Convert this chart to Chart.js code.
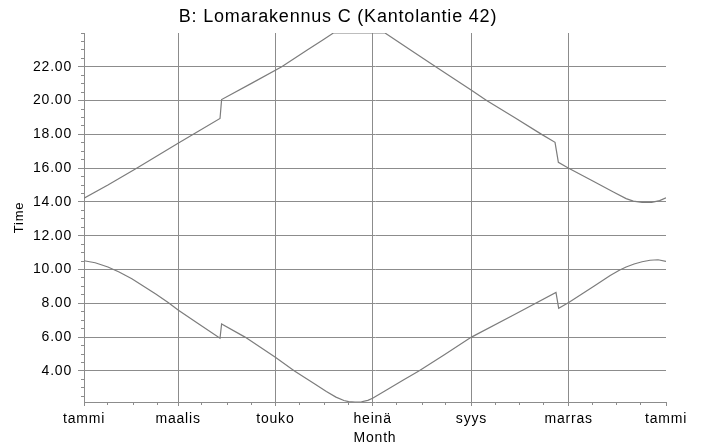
<!DOCTYPE html>
<html>
<head>
<meta charset="utf-8">
<script src="https://cdn.jsdelivr.net/npm/chart.js@4/dist/chart.umd.min.js"></script>
<style>
	html, body { margin: 0; padding: 0; background: #fff; }
</style>
</head>
<body>
<canvas id="sun-chart" width="704" height="448"></canvas>
<script>
// x axis: day of year, labels every second month
const monthLabels = ['tammi', 'maalis', 'touko', 'heinä', 'syys', 'marras', 'tammi'];
const monthLabelDays = [0, 59, 120, 181, 243, 304, 365];
const monthStartDays = [0, 31, 59, 90, 120, 151, 181, 212, 243, 273, 304, 334, 365];
const timeTicks = [4, 6, 8, 10, 12, 14, 16, 18, 20, 22];

// upper curve (sunset)
const sunsetDays = [0, 15, 33, 59, 72, 85.3, 86.3, 105, 124, 140, 150, 156.4, 188.8, 205, 222, 243, 252.5, 270, 287, 295.4, 297.5, 303.7, 319.4, 332, 340, 344.5, 350, 356, 361, 365];
const sunsetTimes = [14.22, 15.0, 16.0, 17.48, 18.2, 18.94, 20.06, 21.02, 22.0, 23.0, 23.6, 24.0, 24.0, 22.98, 21.92, 20.61, 20.0, 19.0, 18.0, 17.53, 16.35, 16.01, 15.22, 14.59, 14.2, 14.05, 13.98, 13.98, 14.08, 14.25];

// lower curve (sunrise)
const sunriseDays = [0, 7, 15, 22, 30, 45, 53, 59, 72, 85.3, 86.3, 101, 120, 132, 145, 152, 158, 163, 166, 170, 174, 178, 181, 190, 200, 210, 226, 243, 270, 296, 297.7, 304, 320, 330, 336, 340, 345, 350, 355, 360, 365];
const sunriseTimes = [10.52, 10.4, 10.15, 9.85, 9.45, 8.55, 8.03, 7.6, 6.77, 5.93, 6.78, 6.0, 4.81, 4.0, 3.21, 2.78, 2.45, 2.25, 2.18, 2.16, 2.17, 2.26, 2.38, 2.89, 3.45, 4.0, 4.96, 6.0, 7.34, 8.64, 7.71, 8.05, 9.02, 9.65, 9.97, 10.15, 10.33, 10.46, 10.55, 10.58, 10.48];

const yMin = 2.16;
const yMax = 24;
const gridColor = '#8c8c8c';
const lineColor = '#7c7c7c';

Chart.defaults.font.family = "'Liberation Sans', Arial, sans-serif";
Chart.defaults.color = '#000';

// the original text is set a bit wider than plain Arial
const spacedText = {
	id: 'spacedText',
	beforeUpdate(chart) { chart.ctx.letterSpacing = '0.8px'; },
	beforeDraw(chart) { chart.ctx.letterSpacing = '0.8px'; },
};

const toPoints = (days, times) => days.map((d, i) => ({ x: d, y: times[i] }));

const minorX = monthStartDays.slice(0, -1).flatMap((d) => [d, d + 15]).concat([365]);
const minorY = [];
for (let v = 2.5; v <= yMax; v += 0.5) minorY.push(v);

new Chart(document.getElementById('sun-chart'), {
	type: 'line',
	plugins: [spacedText],
	data: {
		datasets: [
			{
				label: 'sunset',
				data: toPoints(sunsetDays, sunsetTimes),
				borderColor: lineColor,
				borderWidth: 1.2,
				pointRadius: 0,
				tension: 0,
			},
			{
				label: 'sunrise',
				data: toPoints(sunriseDays, sunriseTimes),
				borderColor: lineColor,
				borderWidth: 1.2,
				pointRadius: 0,
				tension: 0,
			},
		],
	},
	options: {
		responsive: false,
		animation: false,
		layout: { padding: { left: 10, right: 38, top: 0, bottom: 0 } },
		plugins: {
			legend: { display: false },
			tooltip: { enabled: false },
			title: {
				display: true,
				text: 'B: Lomarakennus C (Kantolantie 42)',
				font: { size: 18, weight: 'normal' },
				color: '#000',
				padding: { top: 6, bottom: 5.4 },
			},
		},
		scales: {
			x: {
				type: 'linear',
				position: 'bottom',
				weight: 1,
				min: 0,
				max: 365,
				afterBuildTicks: (axis) => {
					axis.ticks = monthLabelDays.map((v) => ({ value: v }));
				},
				afterFit: (axis) => { axis.height = 46; },
				ticks: {
					autoSkip: false,
					maxRotation: 0,
					padding: 5,
					font: { size: 14 },
					callback: (value) => monthLabels[monthLabelDays.indexOf(value)],
				},
				grid: {
					color: (ctx) => (ctx.tick && ctx.tick.value === 365 ? 'rgba(0,0,0,0)' : gridColor),
					tickColor: gridColor,
					tickLength: 4,
					lineWidth: 1,
				},
				border: { color: gridColor, width: 1 },
				title: {
					display: true,
					text: 'Month',
					font: { size: 14 },
					padding: { top: 2, bottom: 1 },
				},
			},
			x2: {
				type: 'linear',
				position: 'bottom',
				weight: 0,
				min: 0,
				max: 365,
				afterBuildTicks: (axis) => {
					axis.ticks = minorX.map((v) => ({ value: v }));
				},
				afterFit: (axis) => { axis.height = 0; },
				ticks: { display: false, autoSkip: false },
				grid: { drawOnChartArea: false, color: gridColor, tickLength: 3 },
				border: { display: false },
			},
			y: {
				type: 'linear',
				position: 'left',
				weight: 1,
				min: yMin,
				max: yMax,
				afterBuildTicks: (axis) => {
					axis.ticks = timeTicks.map((v) => ({ value: v }));
				},
				afterFit: (axis) => { axis.width = 74; },
				ticks: {
					padding: 6,
					font: { size: 14 },
					callback: (value) => value.toFixed(2),
				},
				grid: { color: gridColor, tickColor: gridColor, tickLength: 6, lineWidth: 1 },
				border: { color: gridColor, width: 1 },
				title: {
					display: true,
					text: 'Time',
					font: { size: 13 },
					padding: { top: 2, bottom: 2 },
				},
			},
			y2: {
				type: 'linear',
				position: 'left',
				weight: 0,
				min: yMin,
				max: yMax,
				afterBuildTicks: (axis) => {
					axis.ticks = minorY.map((v) => ({ value: v }));
				},
				afterFit: (axis) => { axis.width = 0; },
				ticks: { display: false },
				grid: { drawOnChartArea: false, color: gridColor, tickLength: 3 },
				border: { display: false },
			},
		},
	},
});
</script>
</body>
</html>
